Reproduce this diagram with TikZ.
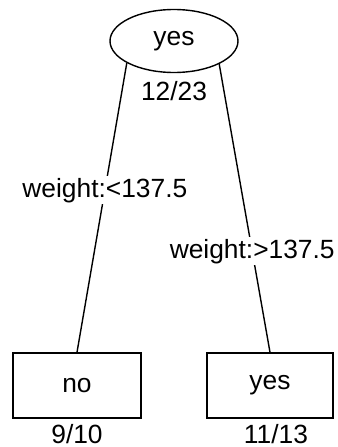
\documentclass[tikz,border=0pt]{standalone}
\usepackage{fontspec}
\setmainfont{Liberation Sans}
\usetikzlibrary{positioning,shapes.geometric}

\begin{document}
\begin{tikzpicture}[
  node distance=0.16cm,
  every node/.style={font=\fontsize{15}{17}\selectfont},
  root/.style={ellipse,draw,line width=0.8pt,minimum width=2.56cm,minimum height=1.26cm,inner sep=0pt},
  leaf/.style={rectangle,draw,line width=0.8pt,minimum width=2.56cm,minimum height=1.3cm,inner sep=0pt},
  count/.style={inner sep=0pt},
  cond/.style={fill=white,inner sep=1pt},
  branch/.style={line width=0.8pt}
]
\useasboundingbox (0,0) rectangle (6.76,8.94);
\node[root] (top) at (3.48,8.12) {yes};
\node[count,below=of top] (topcount) {12/23};
\node[leaf] (no) at (1.54,1.23) {no};
\node[leaf,minimum width=2.52cm] (yes) at (5.4,1.23) {yes};
\node[count,below=0.1cm of no] (nocount) {9/10};
\node[count,below=0.1cm of yes,xshift=0.12cm] (yescount) {11/13};
\draw[branch] (top.205) -- node[cond,pos=0.44] {weight:<137.5} (no.north);
\draw[branch] (top.333) -- node[cond,pos=0.65] {weight:>137.5} (yes.north);
\end{tikzpicture}
\end{document}
